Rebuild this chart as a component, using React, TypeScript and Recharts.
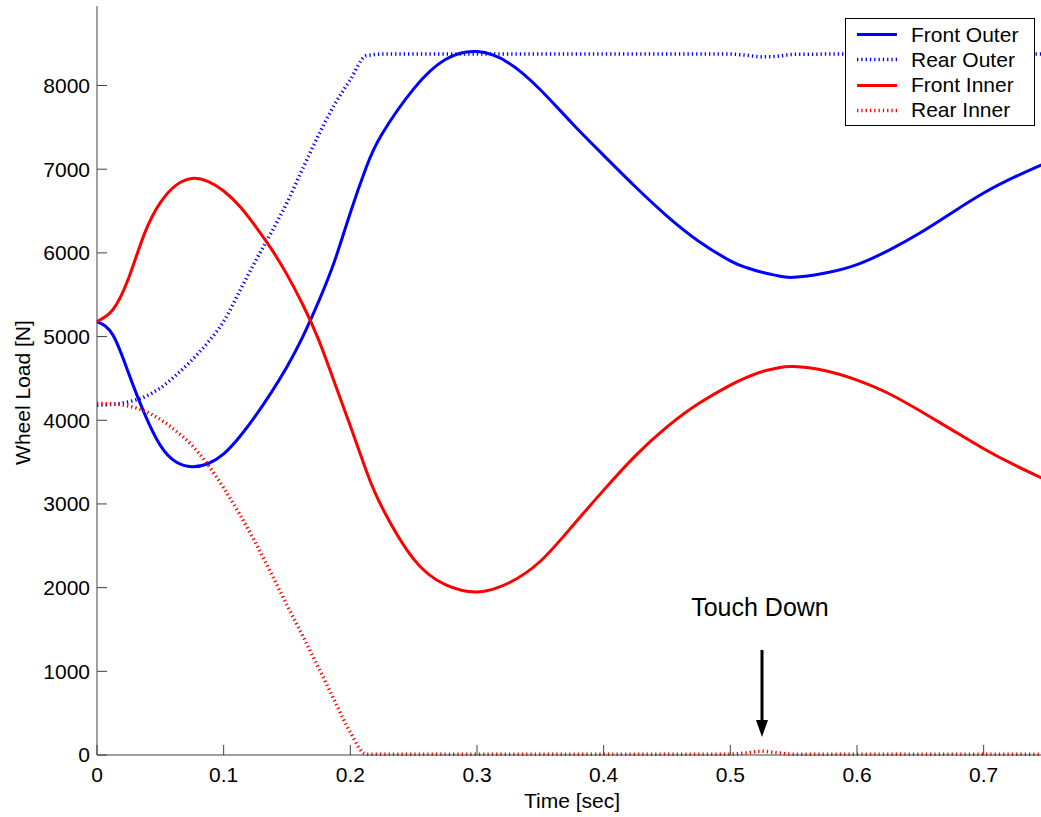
import React from 'react';
import { LineChart, Line, XAxis, YAxis, Legend, ReferenceLine } from 'recharts';

const TIME = [
  0, 0.0125, 0.025, 0.0375, 0.05, 0.0625, 0.075, 0.0875, 0.1, 0.1125, 0.125, 0.1375, 0.15, 0.1625,
  0.175, 0.1875, 0.2, 0.2125, 0.225, 0.25, 0.275, 0.3, 0.325, 0.35, 0.375, 0.4, 0.425, 0.45, 0.475,
  0.5, 0.5125, 0.525, 0.5375, 0.55, 0.575, 0.6, 0.625, 0.65, 0.675, 0.7, 0.725, 0.75,
];

const FRONT_OUTER = [
  5180, 5020, 4560, 4080, 3700, 3500, 3445, 3480, 3598, 3800, 4050, 4330, 4640, 5000,
  5420, 5900, 6480, 7020, 7420, 7960, 8310, 8405, 8270, 7950, 7550, 7165, 6790, 6440, 6140,
  5905, 5825, 5768, 5726, 5708, 5760, 5860, 6030, 6240, 6480, 6715, 6910, 7080,
];

const REAR_OUTER = [
  4180, 4190, 4220, 4280, 4385, 4540, 4720, 4930, 5180, 5540, 5900, 6240, 6600, 7010,
  7410, 7770, 8070, 8355, 8375, 8375, 8375, 8375, 8375, 8375, 8375, 8375, 8375, 8375, 8375,
  8375, 8362, 8342, 8350, 8372, 8375, 8375, 8375, 8375, 8375, 8375, 8375, 8375,
];

const FRONT_INNER = [
  5180, 5320, 5700, 6230, 6600, 6810, 6890, 6855, 6740, 6560, 6320, 6050, 5740, 5380,
  4960, 4450, 3930, 3400, 2960, 2340, 2035, 1948, 2055, 2315, 2730, 3165, 3575, 3920, 4200,
  4420, 4510, 4580, 4625, 4642, 4592, 4480, 4320, 4110, 3885, 3660, 3460, 3280,
];

const REAR_INNER = [
  4200, 4195, 4170, 4110, 4010, 3870, 3700, 3470, 3190, 2880, 2540, 2170, 1790, 1420,
  1040, 650, 270, 10, 10, 10, 10, 10, 10, 10, 10, 10, 10, 10, 10,
  10, 25, 45, 25, 10, 10, 10, 10, 10, 10, 10, 10, 10,
];

const X_TICKS = [0, 0.1, 0.2, 0.3, 0.4, 0.5, 0.6, 0.7];
const Y_TICKS = [0, 1000, 2000, 3000, 4000, 5000, 6000, 7000, 8000];

// arrow for the "Touch Down" note, in data units
const TOUCH_DOWN_T = 0.525;
const TOUCH_DOWN_FROM = 1255;
const TOUCH_DOWN_TO = 215;

const SERIES = [
  { key: 'frontOuter', name: 'Front Outer', color: '#0000ff', dotted: false },
  { key: 'rearOuter', name: 'Rear Outer', color: '#0000ff', dotted: true },
  { key: 'frontInner', name: 'Front Inner', color: '#ff0000', dotted: false },
  { key: 'rearInner', name: 'Rear Inner', color: '#ff0000', dotted: true },
];

const data = TIME.map((t, i) => ({
  t,
  frontOuter: FRONT_OUTER[i],
  rearOuter: REAR_OUTER[i],
  frontInner: FRONT_INNER[i],
  rearInner: REAR_INNER[i],
}));

const FONT = '"Liberation Sans", Arial, Helvetica, sans-serif';
const AXIS = '#404040';
const DOT_DASH = '1.3 3';

const fmtX = (v: number) => (v === 0 ? '0' : String(Math.round(v * 10) / 10));

const LegendBox = () => (
  <div
    style={{
      width: 188,
      height: 106,
      border: '1px solid #000',
      background: '#fff',
      fontFamily: FONT,
      fontSize: 21,
      color: '#000',
      position: 'relative',
    }}
  >
    {SERIES.map((s, i) => (
      <div
        key={s.key}
        style={{ position: 'absolute', left: 0, top: 3 + i * 25.3, height: 25, display: 'flex', alignItems: 'center' }}
      >
        <svg width={52} height={25}>
          <line
            x1={11}
            x2={51}
            y1={12.5}
            y2={12.5}
            stroke={s.color}
            strokeWidth={s.dotted ? 3.5 : 3}
            strokeDasharray={s.dotted ? DOT_DASH : undefined}
          />
        </svg>
        <span style={{ marginLeft: 13, whiteSpace: 'nowrap' }}>{s.name}</span>
      </div>
    ))}
  </div>
);

const YTitle = (props: any) => {
  const vb = props.viewBox || {};
  const cx = vb.x + 22;
  const cy = vb.y + vb.height / 2 + 12;
  return (
    <text
      x={cx}
      y={cy}
      transform={`rotate(-90, ${cx}, ${cy})`}
      textAnchor="middle"
      dominantBaseline="central"
      fontFamily={FONT}
      fontSize={21}
      fill="#000"
    >
      Wheel Load [N]
    </text>
  );
};

const TouchDownArrow = (props: any) => {
  const x = props.x1;
  const top = Math.min(props.y1, props.y2);
  const tip = Math.max(props.y1, props.y2);
  return (
    <g>
      <text
        x={x - 2}
        y={top - 43}
        textAnchor="middle"
        dominantBaseline="central"
        fontFamily={FONT}
        fontSize={25}
        fill="#000"
      >
        Touch Down
      </text>
      <line x1={x} x2={x} y1={top} y2={tip - 14} stroke="#000" strokeWidth={3} />
      <polygon points={`${x - 6},${tip - 17} ${x + 6},${tip - 17} ${x},${tip}`} fill="#000" />
    </g>
  );
};

export default function App() {
  return (
    <div
      style={{
        position: 'absolute',
        left: 0,
        top: 0,
        width: 1041,
        height: 817,
        overflow: 'hidden',
        background: '#fff',
      }}
    >
      <LineChart width={1050} height={817} data={data} margin={{ top: 6, right: 3, bottom: 0, left: 0 }}>
        <XAxis
          dataKey="t"
          type="number"
          domain={[0, 0.75]}
          ticks={X_TICKS}
          interval={0}
          height={62}
          tickSize={-10}
          tickMargin={22}
          tickFormatter={fmtX}
          axisLine={{ stroke: AXIS }}
          tickLine={{ stroke: AXIS }}
          tick={{ fill: '#000', fontSize: 21, fontFamily: FONT }}
          label={{ value: 'Time [sec]', position: 'insideBottom', offset: 9, fill: '#000', fontSize: 21, fontFamily: FONT }}
        />
        <XAxis
          xAxisId="top"
          orientation="top"
          dataKey="t"
          type="number"
          domain={[0, 0.75]}
          allowDataOverflow
          ticks={X_TICKS}
          interval={0}
          height={0}
          tickSize={-10}
          tickFormatter={() => ''}
          axisLine={{ stroke: AXIS }}
          tickLine={{ stroke: AXIS }}
        />
        <YAxis
          type="number"
          domain={[0, 8950]}
          ticks={Y_TICKS}
          interval={0}
          width={97}
          tickSize={-10}
          tickMargin={17}
          axisLine={{ stroke: AXIS }}
          tickLine={{ stroke: AXIS }}
          tick={{ fill: '#000', fontSize: 21, fontFamily: FONT }}
          label={{ content: <YTitle /> }}
        />
        <YAxis
          yAxisId="right"
          orientation="right"
          type="number"
          domain={[0, 8950]}
          allowDataOverflow
          ticks={Y_TICKS}
          interval={0}
          width={0}
          tickSize={-10}
          tickFormatter={() => ''}
          axisLine={{ stroke: AXIS }}
          tickLine={{ stroke: AXIS }}
        />
        <Legend
          layout="vertical"
          align="center"
          verticalAlign="middle"
          content={<LegendBox />}
          wrapperStyle={{ left: 845, top: 18, right: 'auto', bottom: 'auto', width: 'auto' }}
        />
        {SERIES.map((s) => (
          <Line
            key={s.key}
            dataKey={s.key}
            name={s.name}
            type={s.dotted ? 'monotone' : 'natural'}
            stroke={s.color}
            strokeWidth={s.dotted ? 3.5 : 3}
            strokeDasharray={s.dotted ? DOT_DASH : undefined}
            dot={false}
            activeDot={false}
            isAnimationActive={false}
          />
        ))}
        <ReferenceLine
          segment={[
            { x: TOUCH_DOWN_T, y: TOUCH_DOWN_FROM },
            { x: TOUCH_DOWN_T, y: TOUCH_DOWN_TO },
          ]}
          shape={(p: any) => <TouchDownArrow {...p} />}
        />
      </LineChart>
    </div>
  );
}
